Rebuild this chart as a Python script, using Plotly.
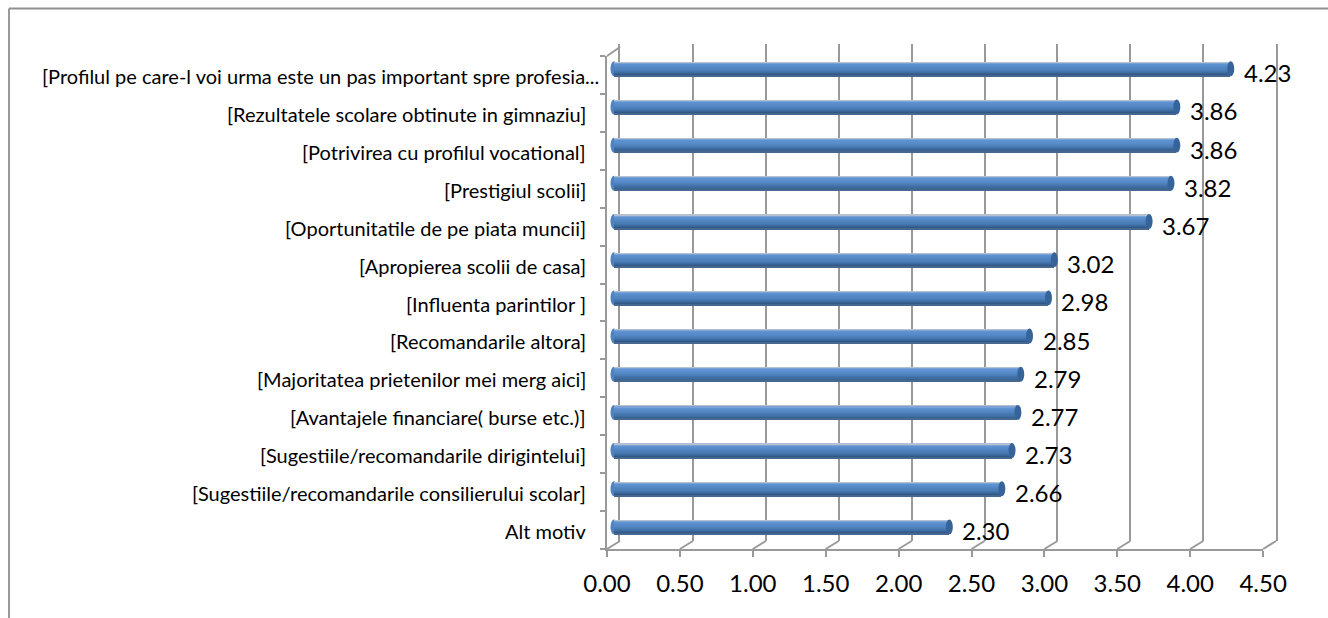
import plotly.graph_objects as go

WIDTH = 1328
HEIGHT = 618

categories = [
    "[Profilul pe care-l voi urma este un pas important spre profesia...",
    "[Rezultatele scolare obtinute in gimnaziu]",
    "[Potrivirea cu profilul vocational]",
    "[Prestigiul scolii]",
    "[Oportunitatile de pe piata muncii]",
    "[Apropierea scolii de casa]",
    "[Influenta parintilor ]",
    "[Recomandarile altora]",
    "[Majoritatea prietenilor mei merg aici]",
    "[Avantajele financiare( burse etc.)]",
    "[Sugestiile/recomandarile dirigintelui]",
    "[Sugestiile/recomandarile consilierului scolar]",
    "Alt motiv",
]
values = [4.23, 3.86, 3.86, 3.82, 3.67, 3.02, 2.98, 2.85, 2.79, 2.77, 2.73, 2.66, 2.30]
x_ticks = [0, 0.5, 1, 1.5, 2, 2.5, 3, 3.5, 4, 4.5]

# fake 3D look of the Excel chart: three plot areas shifted against each other
FRONT_X = 607
FRONT_Y = (56, 549)
BACK_DX = 13
BACK_Y = (44, 541)
PX_PER_UNIT = 145.8
BAR_DX = 7
BAR_Y = (49.7, 546)
X_MAX = 4.5
PAD = 0.1  # room for the bar caps on the bar axis

LINE_COLOR = "#999999"
FONT = "Lato"

# colours of the bar from its top edge down
bar_shades = ["#b4c1d1", "#7aa2d4", "#5f92d2", "#5a8ecd", "#578bc9", "#5387c4",
              "#4f82bd", "#4a7cb6", "#4575ac", "#3f6da1", "#386395", "#315888", "#47688e"]
BAR_HEIGHT = 0.39
CAP_HALF = 3.5 / PX_PER_UNIT


def xdom(left):
    return [left / WIDTH, (left + X_MAX * PX_PER_UNIT) / WIDTH]


def ydom(top, bottom):
    return [1 - bottom / HEIGHT, 1 - top / HEIGHT]


fig = go.Figure()

# empty helper traces, a subplot without a trace is not drawn
fig.add_trace(go.Scatter(x=x_ticks, y=[0] * len(x_ticks), mode="none", xaxis="x", yaxis="y",
                         hoverinfo="skip", showlegend=False))
fig.add_trace(go.Scatter(x=x_ticks, y=[0] * len(x_ticks), mode="none", xaxis="x2", yaxis="y2",
                         hoverinfo="skip", showlegend=False))

# bars, painted row by row so that the shading looks like a cylinder
row = BAR_HEIGHT / len(bar_shades)
for n, shade in enumerate(bar_shades):
    fig.add_trace(go.Bar(
        x=values,
        y=list(range(len(values))),
        orientation="h",
        xaxis="x3",
        yaxis="y3",
        width=BAR_HEIGHT - n * row,
        offset=-BAR_HEIGHT / 2 + n * row,
        marker=dict(color=shade, line=dict(width=0)),
        showlegend=False,
        hoverinfo="skip" if n else "x+y",
    ))

shapes = []
annotations = []

for i, v in enumerate(values):
    # rounded ends of the bars
    shapes.append(dict(type="circle", xref="x3", yref="y3", layer="below",
                       x0=-CAP_HALF, x1=CAP_HALF,
                       y0=i - BAR_HEIGHT / 2, y1=i + BAR_HEIGHT / 2,
                       fillcolor="#4f83c0", line=dict(width=0)))
    shapes.append(dict(type="circle", xref="x3", yref="y3", layer="above",
                       x0=v - CAP_HALF, x1=v + CAP_HALF,
                       y0=i - BAR_HEIGHT / 2, y1=i + BAR_HEIGHT / 2,
                       fillcolor="#36649a", line=dict(width=0)))
    annotations.append(dict(x=v, y=i, xref="x3", yref="y3", text=f"{v:.2f}",
                            showarrow=False, xanchor="left", xshift=11, yshift=-4,
                            font=dict(family=FONT, size=24, color="#000000")))
    annotations.append(dict(x=0, y=i, xref="paper", yref="y2", text=categories[i],
                            showarrow=False, xanchor="right",
                            xshift=(601 if i == 0 else 588),
                            yshift=-1,
                            font=dict(family=FONT, size=20, color="#000000")))

# floor diagonals
for t in x_ticks:
    xf = FRONT_X + t * PX_PER_UNIT
    shapes.append(dict(type="line", xref="paper", yref="paper",
                       x0=xf / WIDTH, x1=(xf + BACK_DX) / WIDTH,
                       y0=1 - FRONT_Y[1] / HEIGHT, y1=1 - BACK_Y[1] / HEIGHT,
                       line=dict(color=LINE_COLOR, width=2)))
# wall diagonal at the top
shapes.append(dict(type="line", xref="paper", yref="paper",
                   x0=FRONT_X / WIDTH, x1=(FRONT_X + BACK_DX) / WIDTH,
                   y0=1 - FRONT_Y[0] / HEIGHT, y1=1 - (FRONT_Y[0] - 9) / HEIGHT,
                   line=dict(color=LINE_COLOR, width=2)))
# chart frame, only top and left are visible in the crop
shapes.append(dict(type="line", xref="paper", yref="paper",
                   x0=9 / WIDTH, x1=1, y0=1 - 8.5 / HEIGHT, y1=1 - 8.5 / HEIGHT,
                   line=dict(color="#8f8f8f", width=2)))
shapes.append(dict(type="line", xref="paper", yref="paper",
                   x0=9 / WIDTH, x1=9 / WIDTH, y0=0, y1=1 - 8.5 / HEIGHT,
                   line=dict(color="#9a9a9a", width=2)))

fig.update_layout(
    width=WIDTH,
    height=HEIGHT,
    margin=dict(l=0, r=0, t=0, b=0, autoexpand=False),
    autosize=False,
    paper_bgcolor="white",
    plot_bgcolor="rgba(0,0,0,0)",
    barmode="overlay",
    bargap=0,
    showlegend=False,
    shapes=shapes,
    annotations=annotations,
    # back wall with the gridlines
    xaxis=dict(domain=xdom(FRONT_X + BACK_DX), range=[0, X_MAX], anchor="y",
               dtick=0.5, tick0=0, showgrid=True, gridcolor=LINE_COLOR, gridwidth=2.4,
               zeroline=False, showline=False, showticklabels=False, ticks=""),
    yaxis=dict(domain=ydom(*BACK_Y), range=[0, 1], anchor="x", mirror=True,
               showgrid=False, zeroline=False, showline=True, linecolor=LINE_COLOR,
               linewidth=2.4, showticklabels=False, ticks=""),
    # front axes with ticks and numbers
    xaxis2=dict(domain=xdom(FRONT_X), range=[0, X_MAX], anchor="y2",
                dtick=0.5, tick0=0, tickformat=".2f", showgrid=False, zeroline=False,
                showline=True, linecolor=LINE_COLOR, linewidth=2,
                ticks="outside", ticklen=6, tickwidth=2, tickcolor=LINE_COLOR,
                ticklabelstandoff=6,
                tickfont=dict(family=FONT, size=24, color="#000000")),
    yaxis2=dict(domain=ydom(*FRONT_Y), range=[12.5, -0.5], anchor="x2",
                tick0=-0.5, dtick=1, showgrid=False, zeroline=False,
                showline=True, linecolor=LINE_COLOR, linewidth=2,
                ticks="outside", ticklen=5, tickwidth=1.5, tickcolor=LINE_COLOR,
                showticklabels=False),
    # axes of the bars themselves
    xaxis3=dict(domain=[(FRONT_X + BAR_DX - PAD * PX_PER_UNIT) / WIDTH,
                        (FRONT_X + BAR_DX + (X_MAX + PAD) * PX_PER_UNIT) / WIDTH],
                range=[-PAD, X_MAX + PAD], anchor="y3", visible=False),
    yaxis3=dict(domain=ydom(*BAR_Y), range=[12.5, -0.5], anchor="x3", visible=False),
)

fig.write_html("out.html", config={"displayModeBar": False},
               post_script="document.body.style.margin='0';")
